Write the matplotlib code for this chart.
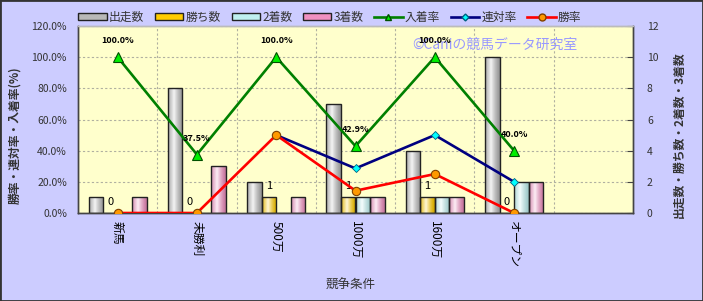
import numpy as np
import matplotlib
matplotlib.use("Agg")
import matplotlib.pyplot as plt
import matplotlib.colors as mcolors
from matplotlib.patches import Rectangle, Patch
from matplotlib.lines import Line2D
from matplotlib.ticker import FuncFormatter, FixedLocator

plt.rcParams["font.family"] = ["Noto Sans CJK JP", "DejaVu Sans"]

# data (last slot is an empty category)
categories = ["新馬", "未勝利", "500万", "1000万", "1600万", "オープン", ""]
runs = [1, 8, 2, 7, 4, 10, np.nan]
wins = [0, 0, 1, 1, 1, 0, np.nan]
seconds = [0, 0, 0, 1, 1, 2, np.nan]
thirds = [1, 3, 1, 1, 1, 2, np.nan]
place_rate = [100.0, 37.5, 100.0, 42.9, 100.0, 40.0, np.nan]
quinella_rate = [np.nan, np.nan, 50.0, 28.6, 50.0, 20.0, np.nan]
win_rate = [0.0, 0.0, 50.0, 14.3, 25.0, 0.0, np.nan]

bar_series = [
    ("出走数", runs, "#b8b8b8"),
    ("勝ち数", wins, "#ffcc00"),
    ("2着数", seconds, "#bff0f0"),
    ("3着数", thirds, "#f090c0"),
]

BG = "#ccccff"
PLOT_BG = "#ffffcc"
TXT = "#333333"


def shade_bar(ax, rect, color):
    base = np.array(mcolors.to_rgb(color))
    t = np.linspace(0, 1, 40)
    light = np.clip(1 - np.abs(t - 0.4) / 0.55, 0, 1) ** 1.2
    rgb = base[None, :] * (1 - 0.85 * light[:, None]) + 0.85 * light[:, None]
    rgb *= (0.82 + 0.18 * np.clip(1 - np.abs(t - 0.4) / 0.6, 0, 1))[:, None]
    x, w, h = rect.get_x(), rect.get_width(), rect.get_height()
    if not h or np.isnan(h):
        return
    im = ax.imshow(rgb[None, :, :], extent=[x, x + w, 0, h], aspect="auto",
                   interpolation="bilinear", zorder=2)
    im.set_clip_path(rect)
    rect.set_facecolor("none")


fig = plt.figure(figsize=(7.03, 3.01), dpi=100, facecolor=BG)
ax = fig.add_axes([78 / 703, 1 - 213 / 301, 555 / 703, 187 / 301])
ax.set_facecolor(PLOT_BG)
ax2 = ax.twinx()
ax2.patch.set_visible(False)

x = np.arange(len(categories))
bw = 0.183
offsets = [-1.5, -0.5, 0.5, 1.5]
for (name, vals, color), off in zip(bar_series, offsets):
    bars = ax.bar(x + off * bw, vals, bw, color=color, edgecolor="#222222",
                  linewidth=1.0, zorder=3)
    for r in bars:
        shade_bar(ax, r, color)

# win count labels above the 勝ち数 bars
for xi, v in zip(x, wins):
    if not np.isnan(v):
        ax.annotate(f"{int(v)}", (xi - 0.5 * bw, v), xytext=(0, 6),
                    textcoords="offset points", ha="center", va="baseline",
                    fontsize=8, color="black", zorder=5)

ax.set_xlim(-0.5, len(categories) - 0.5)
ax.set_ylim(0, 12)
ax.set_yticks(range(0, 13, 2))
ax.yaxis.tick_right()
ax.yaxis.set_label_position("right")
ax.tick_params(axis="y", direction="in", length=4, labelsize=7.5,
               labelcolor=TXT, pad=10, color="#444444")
ax.set_xticks(x)
ax.set_xticklabels(categories, rotation=-90, fontsize=8.5, color="black")
ax.tick_params(axis="x", length=0, pad=6)
ax.xaxis.set_minor_locator(FixedLocator(np.arange(0.5, len(categories) - 1, 1)))
ax.tick_params(axis="x", which="minor", length=0)
ax.grid(True, axis="y", which="major", linestyle=(0, (2, 2)), color="#b0b0a0",
        linewidth=0.8, zorder=0)
ax.grid(True, axis="x", which="minor", linestyle=(0, (2, 2)), color="#b0b0a0",
        linewidth=0.8, zorder=0)
ax.set_axisbelow(True)

# rate lines on the left (percent) axis
ax2.plot(x, place_rate, color="#008000", lw=1.9, marker="^", ms=7,
         mfc="#00ee00", mec="#005000", mew=0.8, zorder=4)
ax2.plot(x, quinella_rate, color="#000080", lw=1.9, marker="D", ms=4.5,
         mfc="#00ffff", mec="#006080", mew=0.6, zorder=4)
ax2.plot(x, win_rate, color="#ff0000", lw=1.9, marker="o", ms=6,
         mfc="#ff9900", mec="#804000", mew=0.8, zorder=4)
for xi, v in zip(x, place_rate):
    if not np.isnan(v):
        ax2.annotate(f"{v:.1f}%", (xi, v), xytext=(0, 10),
                     textcoords="offset points", ha="center", va="baseline",
                     fontsize=6.5, fontweight="bold", color="black", zorder=6)

ax2.set_ylim(0, 120)
ax2.set_yticks(range(0, 121, 20))
ax2.yaxis.set_major_formatter(FuncFormatter(lambda v, p: f"{v:.1f}%"))
ax2.yaxis.tick_left()
ax2.yaxis.set_label_position("left")
ax2.tick_params(axis="y", length=0, labelsize=7.5, labelcolor=TXT, pad=8)

for a in (ax, ax2):
    for s in a.spines.values():
        s.set_color("#444444")
        s.set_linewidth(1.0)
    a.spines["top"].set_color("#bbbbbb")

ax.text(0.751, 0.9, "©Caniの競馬データ研究室", transform=ax.transAxes,
        ha="center", va="center", fontsize=10, color="#9999ff", zorder=1)

fig.text(15 / 703, 1 - 135 / 301, "勝率・連対率・入着率(%)", rotation=90,
         ha="center", va="center", fontsize=8.5, fontweight="bold", color=TXT)
fig.text(679 / 703, 1 - 135 / 301, "出走数・勝ち数・2着数・3着数", rotation=90,
         ha="center", va="center", fontsize=8.5, fontweight="bold", color=TXT)
fig.text(351 / 703, 1 - 285 / 301, "競争条件", ha="center", va="center",
         fontsize=9, color=TXT)

handles = [Patch(facecolor=c, edgecolor="#222222", linewidth=1.0) for _, _, c in bar_series]
handles += [
    Line2D([], [], color="#008000", lw=1.9, marker="^", ms=5, mfc="#00ee00", mec="#005000"),
    Line2D([], [], color="#000080", lw=1.9, marker="D", ms=3.5, mfc="#00ffff", mec="#006080"),
    Line2D([], [], color="#ff0000", lw=1.9, marker="o", ms=5, mfc="#ff9900", mec="#804000"),
]
labels = [s[0] for s in bar_series] + ["入着率", "連対率", "勝率"]
fig.legend(handles, labels, loc="center", bbox_to_anchor=(330 / 703, 1 - 17 / 301),
           ncol=7, frameon=False, fontsize=8.5, handlelength=2.4, handleheight=0.55,
           handletextpad=0.2, columnspacing=0.9, labelcolor=TXT, borderpad=0)

fig.patches.append(Rectangle((0, 0), 1, 1, transform=fig.transFigure, fill=False,
                             edgecolor="#333333", linewidth=2, zorder=10))

fig.savefig("out.png", dpi=100, facecolor=BG)
plt.close(fig)
